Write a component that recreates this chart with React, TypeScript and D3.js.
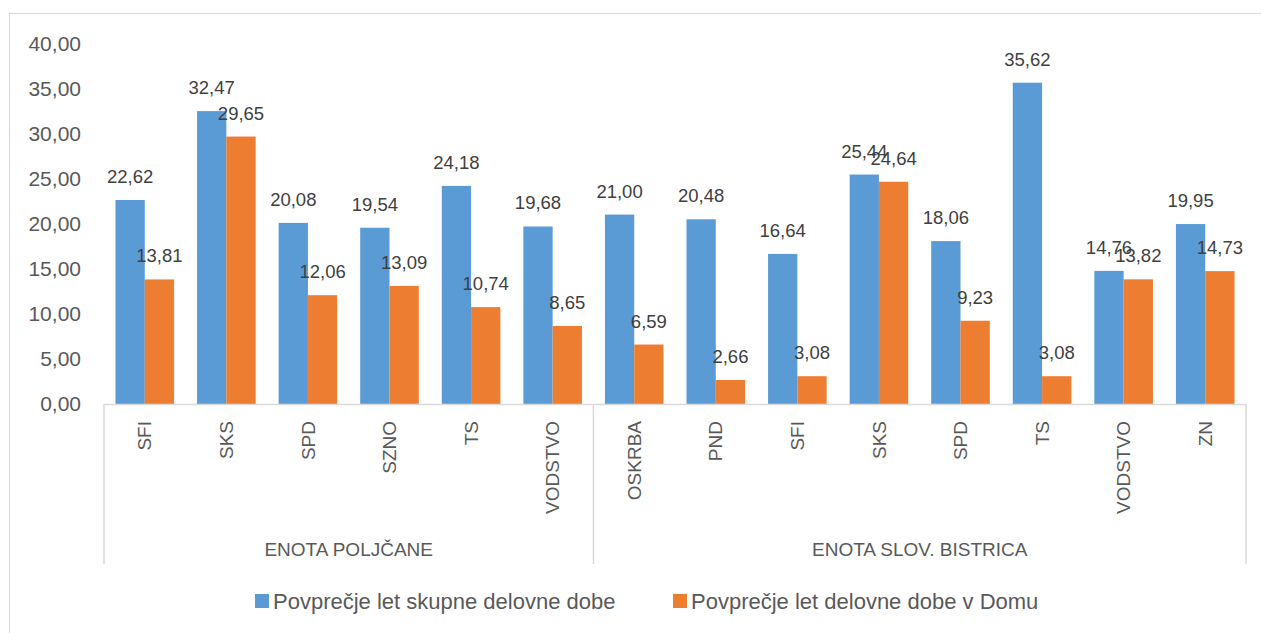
import React from "react";
import * as d3 from "d3";

const categories = ["SFI", "SKS", "SPD", "SZNO", "TS", "VODSTVO", "OSKRBA", "PND", "SFI", "SKS", "SPD", "TS", "VODSTVO", "ZN"];
const groups = ["ENOTA POLJČANE", "ENOTA SLOV. BISTRICA"];
const groupSizes = [6, 8];
const seriesNames = ["Povprečje let skupne delovne dobe", "Povprečje let delovne dobe v Domu"];
const totalYears = [22.62, 32.47, 20.08, 19.54, 24.18, 19.68, 21.0, 20.48, 16.64, 25.44, 18.06, 35.62, 14.76, 19.95];
const homeYears = [13.81, 29.65, 12.06, 13.09, 10.74, 8.65, 6.59, 2.66, 3.08, 24.64, 9.23, 3.08, 13.82, 14.73];
const yTicks = [0, 5, 10, 15, 20, 25, 30, 35, 40];

const colors = ["#5b9bd5", "#ed7d31"];
const W = 1261;
const H = 633;
const font = "'Liberation Sans', Arial, sans-serif";

const fmt = (v: number) => v.toFixed(2).replace(".", ",");

export default function App() {
  const left = 104;
  const right = 1246;
  const y0 = 404;
  const yTop = 43.2;
  const x = d3.scaleBand<number>().domain(d3.range(categories.length)).range([left, right]).padding(0);
  const y = d3.scaleLinear().domain([0, 40]).range([y0, yTop]);
  const step = x.step();
  const barW = step / 2.784;
  const groupPad = (step - 2 * barW) / 2;
  const series = [totalYears, homeYears];

  const groupBounds: number[] = [left];
  let acc = 0;
  groupSizes.forEach((s) => {
    acc += s;
    groupBounds.push(x(acc - 1)! + step);
  });

  return (
    <svg width={W} height={H} style={{ position: "absolute", left: 0, top: 0, background: "#fff" }}>
      <rect x={9.5} y={13.5} width={1260} height={630} fill="#fff" stroke="#d9d9d9" strokeWidth={1.2} />
      {yTicks.map((t) => (
        <text key={t} x={81} y={y(t)} dy="0.35em" textAnchor="end" fontFamily={font} fontSize={21} fill="#595959">
          {fmt(t)}
        </text>
      ))}
      {series.map((vals, si) =>
        vals.map((v, i) => {
          const bx = x(i)! + groupPad + si * barW;
          return (
            <rect key={`b${si}-${i}`} x={bx} y={y(v)} width={barW} height={y0 - y(v)} fill={colors[si]} />
          );
        })
      )}
      {series.map((vals, si) =>
        vals.map((v, i) => {
          const cx = x(i)! + groupPad + si * barW + barW / 2;
          return (
            <text key={`l${si}-${i}`} x={cx} y={y(v) - 23.5} dy="0.35em" textAnchor="middle" fontFamily={font} fontSize={18.5} fill="#404040">
              {fmt(v)}
            </text>
          );
        })
      )}
      <line x1={left} x2={right} y1={y0 + 0.5} y2={y0 + 0.5} stroke="#d9d9d9" strokeWidth={1.5} />
      {groupBounds.map((gx, i) => (
        <line key={`g${i}`} x1={gx} x2={gx} y1={y0} y2={564} stroke="#d9d9d9" strokeWidth={1.5} />
      ))}
      {categories.map((c, i) => {
        const cx = x(i)! + step / 2;
        return (
          <text key={`c${i}`} transform={`translate(${cx},421) rotate(-90)`} dy="0.35em" textAnchor="end" fontFamily={font} fontSize={19} fill="#595959">
            {c}
          </text>
        );
      })}
      {groups.map((g, i) => (
        <text key={`gl${i}`} x={(groupBounds[i] + groupBounds[i + 1]) / 2} y={549} dy="0.35em" textAnchor="middle" fontFamily={font} fontSize={19} fill="#595959">
          {g}
        </text>
      ))}
      {seriesNames.map((s, i) => {
        const lx = [255, 673][i];
        return (
          <g key={`lg${i}`}>
            <rect x={lx} y={594} width={14} height={14} fill={colors[i]} />
            <text x={lx + 18} y={601} dy="0.35em" fontFamily={font} fontSize={22} fill="#595959">
              {s}
            </text>
          </g>
        );
      })}
    </svg>
  );
}
